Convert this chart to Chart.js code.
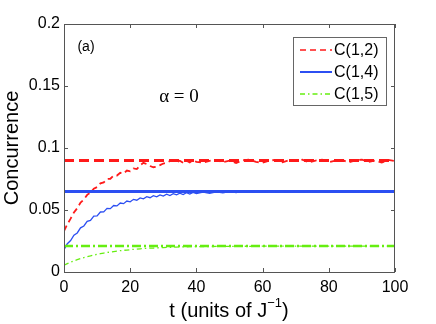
<!DOCTYPE html>
<html>
<head>
<meta charset="utf-8">
<script src="https://cdn.jsdelivr.net/npm/chart.js@4/dist/chart.umd.min.js"></script>
<style>
  html, body { margin: 0; padding: 0; background: #fff; }
  #wrap { width: 436px; height: 324px; }
</style>
</head>
<body>
<div id="wrap"><canvas id="chart" width="436" height="324"></canvas></div>
<script>
// time axis (units of 1/J)
const times = [0,1,2,3,4,5,6,7,8,9,10,11,12,13,14,15,16,17,18,19,20,
  21,22,23,24,25,26,27,28,29,30,31,32,33,34,35,36,37,38,39,40,
  42,44,46,48,50,52,54,56,58,60,62,64,66,68,70,72,74,76,78,80,
  82,84,86,88,90,92,94,96,98,100];

// concurrence vs time
const c12 = [.0330,.0385,.0430,.0480,.0515,.0560,.0585,.0622,.0640,.0672,.0685,
  .0715,.0722,.0750,.0752,.0778,.0778,.0800,.0795,.0818,.0812,
  .0835,.0830,.0860,.0880,.0870,.0855,.0845,.0850,.0862,.0875,
  .0880,.0895,.0900,.0886,.0897,.0880,.0897,.0884,.0902,.0888,
  .0883,.0897,.0904,.0886,.0898,.0879,.0901,.0906,.0888,.0881,
  .0899,.0904,.0885,.0901,.0894,.0906,.0884,.0899,.0905,.0886,
  .0898,.0903,.0884,.0901,.0906,.0888,.0899,.0883,.0904,.0895];
const c14 = [.0180,.0228,.0254,.0297,.0315,.0356,.0371,.0408,.0416,.0450,.0453,
  .0484,.0485,.0513,.0511,.0536,.0533,.0556,.0551,.0572,.0566,
  .0586,.0579,.0598,.0590,.0607,.0599,.0615,.0606,.0622,.0612,
  .0627,.0617,.0632,.0622,.0636,.0625,.0639,.0628,.0642,.0632,
  .0644,.0635,.0647,.0638,.0649,.0640,.0651,.0642,.0652,.0643,
  .0653,.0644,.0653,.0644,.0654,.0644,.0654,.0645,.0654,.0645,
  .0654,.0645,.0654,.0645,.0654,.0645,.0654,.0645,.0654,.0646];
const c15 = [.0055,.0068,.0079,.0090,.0099,.0108,.0116,.0124,.0130,.0137,.0142,
  .0148,.0153,.0157,.0161,.0165,.0169,.0172,.0175,.0177,.0180,
  .0183,.0185,.0187,.0189,.0191,.0192,.0193,.0195,.0196,.0197,
  .0198,.0199,.0200,.0201,.0202,.0203,.0203,.0204,.0204,.0205,
  .0206,.0205,.0207,.0206,.0207,.0207,.0208,.0207,.0208,.0208,
  .0209,.0208,.0209,.0208,.0209,.0209,.0209,.0208,.0209,.0209,
  .0209,.0209,.0209,.0209,.0209,.0209,.0209,.0209,.0209,.0209];

// steady-state values (horizontal lines)
const steadyT = [0, 100];
const steady12 = 0.09;
const steady14 = 0.065;
const steady15 = 0.021;

const labels = ["C(1,2)", "C(1,4)", "C(1,5)"];
const xTicks = [0, 20, 40, 60, 80, 100];
const yTicks = [0, 0.05, 0.1, 0.15, 0.2];

const RED = "#ff1a1a", BLUE = "#2c4ff2", GREEN = "#66ee11";
const SANS = '"Liberation Sans", Arial, Helvetica, sans-serif';

const pts = (xs, ys) => xs.map((x, i) => ({ x: x, y: ys[i] }));
const flat = (v) => steadyT.map((x) => ({ x: x, y: v }));

// frame, inward ticks, legend, annotations
const decor = {
  id: "decor",
  afterDraw(chart) {
    const ctx = chart.ctx;
    const a = chart.chartArea;
    const xs = chart.scales.x, ys = chart.scales.y;
    ctx.save();
    ctx.strokeStyle = "#555";
    ctx.lineWidth = 1;
    ctx.strokeRect(a.left + 0.5, a.top + 0.5, a.right - a.left - 1, a.bottom - a.top);
    ctx.beginPath();
    xTicks.forEach((v) => {
      const px = Math.round(xs.getPixelForValue(v)) + 0.5;
      ctx.moveTo(px, a.bottom); ctx.lineTo(px, a.bottom - 4);
      ctx.moveTo(px, a.top); ctx.lineTo(px, a.top + 4);
    });
    yTicks.forEach((v) => {
      const py = Math.round(ys.getPixelForValue(v)) + 0.5;
      ctx.moveTo(a.left, py); ctx.lineTo(a.left + 4, py);
      ctx.moveTo(a.right, py); ctx.lineTo(a.right - 4, py);
    });
    ctx.stroke();

    // legend
    const lx = 293, ly = 37, lw = 93, lh = 68;
    ctx.fillStyle = "#fff";
    ctx.fillRect(lx, ly, lw, lh);
    ctx.strokeStyle = "#666";
    ctx.strokeRect(lx + 0.5, ly + 0.5, lw, lh);
    const styles = [
      { c: RED, d: [6, 4], w: 1.5 },
      { c: BLUE, d: [], w: 2 },
      { c: GREEN, d: [5, 3, 1.5, 3], w: 1.3 }
    ];
    ctx.font = "16px " + SANS;
    ctx.textBaseline = "middle";
    ctx.textAlign = "left";
    labels.forEach((txt, i) => {
      const y = 50 + i * 22;
      ctx.beginPath();
      ctx.strokeStyle = styles[i].c;
      ctx.lineWidth = styles[i].w;
      ctx.setLineDash(styles[i].d);
      ctx.moveTo(300, y); ctx.lineTo(332, y);
      ctx.stroke();
      ctx.setLineDash([]);
      ctx.fillStyle = "#000";
      ctx.fillText(txt, 334, y + 1);
    });

    // panel label and alpha
    ctx.fillStyle = "#000";
    ctx.font = "14px " + SANS;
    ctx.textAlign = "center";
    ctx.fillText("(a)", 86, 47);
    ctx.font = '19px "Liberation Serif", "Times New Roman", serif';
    ctx.fillText("\u03b1 = 0", 179, 97);

    // x axis title with superscript
    const main = "t (units of J", sup = "\u22121", tail = ")";
    ctx.font = "20px " + SANS;
    const w1 = ctx.measureText(main).width, w3 = ctx.measureText(tail).width;
    ctx.font = "13px " + SANS;
    const w2 = ctx.measureText(sup).width;
    let x0 = 229 - (w1 + w2 + w3) / 2;
    ctx.textAlign = "left";
    ctx.font = "20px " + SANS;
    ctx.fillText(main, x0, 311);
    ctx.font = "13px " + SANS;
    ctx.fillText(sup, x0 + w1, 303);
    ctx.font = "20px " + SANS;
    ctx.fillText(tail, x0 + w1 + w2, 311);
    ctx.restore();
  }
};

new Chart(document.getElementById("chart"), {
  type: "line",
  data: {
    datasets: [
      { data: pts(times, c15), borderColor: GREEN, borderWidth: 1.3, borderDash: [5, 3, 1.5, 3] },
      { data: flat(steady15), borderColor: GREEN, borderWidth: 2.5, borderDash: [9, 3, 2, 3] },
      { data: pts(times, c14), borderColor: BLUE, borderWidth: 1.3 },
      { data: flat(steady14), borderColor: BLUE, borderWidth: 3 },
      { data: pts(times, c12), borderColor: RED, borderWidth: 1.8, borderDash: [6, 4] },
      { data: flat(steady12), borderColor: RED, borderWidth: 3, borderDash: [10, 5] }
    ]
  },
  options: {
    responsive: false,
    animation: false,
    layout: { padding: { top: 24, right: 41, left: 0, bottom: 0 } },
    elements: { point: { radius: 0 }, line: { tension: 0, fill: false } },
    plugins: { legend: { display: false }, tooltip: { enabled: false } },
    scales: {
      x: {
        type: "linear", min: 0, max: 100,
        afterFit: (s) => { s.height = 52; },
        afterBuildTicks: (s) => { s.ticks = xTicks.map((v) => ({ value: v })); },
        grid: { display: false, drawTicks: false },
        border: { display: false },
        ticks: { color: "#000", padding: 6, maxRotation: 0, font: { size: 16, family: SANS } }
      },
      y: {
        min: 0, max: 0.2,
        afterFit: (s) => { s.width = 64; },
        afterBuildTicks: (s) => { s.ticks = yTicks.map((v) => ({ value: v })); },
        grid: { display: false, drawTicks: false },
        border: { display: false },
        title: { display: true, text: "Concurrence", color: "#000", padding: 0, font: { size: 20, family: SANS } },
        ticks: { color: "#000", padding: 4, font: { size: 16, family: SANS }, callback: (v) => String(v) }
      }
    }
  },
  plugins: [decor]
});
</script>
</body>
</html>
